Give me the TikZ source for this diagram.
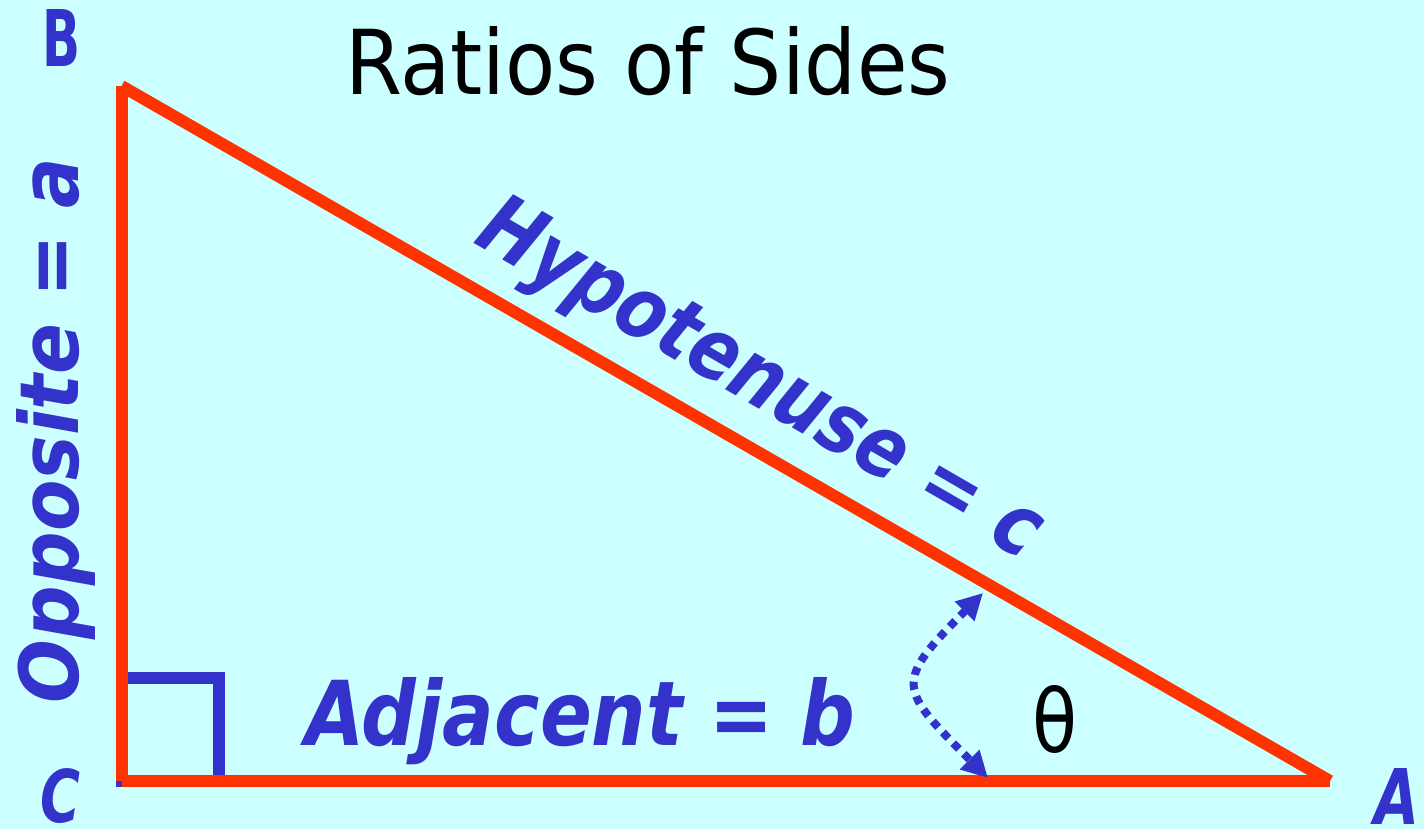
\documentclass[tikz,border=0pt]{standalone}
\usepackage{fontspec}
\setmainfont{DejaVu Sans}
\usepackage{graphicx}
\usetikzlibrary{arrows.meta}
\definecolor{bg}{HTML}{CCFFFF}
\definecolor{tri}{HTML}{FF3300}
\definecolor{lbl}{HTML}{3333CC}
\tikzset{
  side/.style={draw=tri, line width=12pt, line cap=butt},
  sq/.style={draw=lbl, line width=12pt, line join=miter},
  lab/.style={inner sep=0pt, outer sep=0pt, text=lbl, font=\bfseries\itshape},
  labup/.style={inner sep=0pt, outer sep=0pt, text=lbl, font=\bfseries},
  ttl/.style={inner sep=0pt, outer sep=0pt, text=black},
  ang/.style={draw=lbl, line width=8pt, dash pattern=on 8pt off 7pt,
    {Triangle[length=26pt,width=26pt]}-{Triangle[length=26pt,width=26pt]}},
}
\begin{document}
\begin{tikzpicture}[x=1pt,y=-1pt]
  \fill[bg] (0,0) rectangle (1424,829);
  \useasboundingbox (0,0) rectangle (1424,829);

  \coordinate (B) at (121.5,86);
  \coordinate (C) at (121.5,781);
  \coordinate (A) at (1330,781);
  \coordinate (S1) at (121.5,678);
  \coordinate (S2) at (219,678);
  \coordinate (S3) at (219,781);

  % right-angle mark
  \draw[sq] (S1) -- (S2) -- (S3) -- (C) -- cycle;

  % triangle sides
  \draw[side] (C) -- (B);
  \draw[side] (C) -- (A);
  \draw[side] (B) -- (A);

  % angle arrow
  \coordinate (p1) at (988,778);
  \coordinate (p2) at (983,593);
  \draw[ang] (p2) .. controls (893,683) and (898,688) .. (p1);

  % texts
  \node[ttl, anchor=base west] (title) at (345,95)
    {\resizebox{605pt}{68pt}{Ratios of Sides}};
  \node[lab, anchor=base west] (adj) at (305,745)
    {\resizebox{550pt}{68pt}{Adjacent = b}};
  \node[lab, rotate=90, anchor=base west] (opp) at (78,703)
    {\resizebox{545pt}{62pt}{Opposite = a}};
  \node[lab, rotate=-30, anchor=base west] (hyp) at (472,243)
    {\resizebox{636pt}{62pt}{Hypotenuse = c}};
  \node[labup, anchor=base west] (lblB) at (42,67)
    {\resizebox{38pt}{57pt}{B}};
  \node[lab, anchor=base west] (lblC) at (40,822)
    {\resizebox{40pt}{54pt}{C}};
  \node[lab, anchor=base west] (lblA) at (1374,824)
    {\resizebox{45pt}{56pt}{A}};
  \node[ttl, anchor=base west] (theta) at (1032,752)
    {\resizebox{45pt}{67pt}{θ}};
\end{tikzpicture}
\end{document}
